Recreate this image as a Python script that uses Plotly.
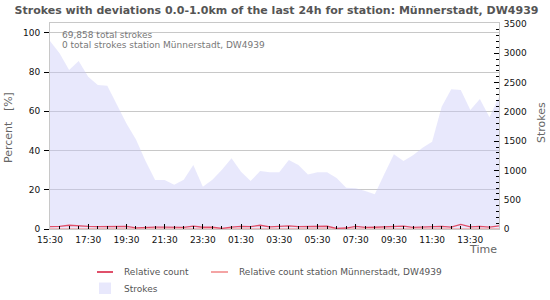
import plotly.graph_objects as go
import pandas as pd

# ---- data ----
times = pd.date_range("2024-05-01 15:30", periods=48, freq="30min")
strokes = [3209, 3000, 2714, 2868, 2600, 2460, 2446, 2110, 1800, 1530,
           1160, 836, 836, 755, 840, 1093, 722, 840, 1010, 1207,
           978, 819, 990, 968, 968, 1178, 1093, 930, 968, 968,
           870, 705, 695, 650, 592, 940, 1275, 1161, 1260, 1388,
           1490, 2088, 2385, 2373, 2031, 2219, 1907, 2258]
rel_count = [1.2, 1.3, 1.9, 1.5, 1.3, 1.2, 1.3, 1.3, 1.3, 0.6,
             0.9, 1.0, 1.0, 0.9, 0.8, 1.5, 0.9, 1.0, 0.3, 1.0,
             1.3, 1.2, 1.9, 1.1, 1.2, 1.6, 1.2, 1.2, 1.4, 1.4,
             0.3, 0.5, 1.3, 0.8, 0.9, 1.0, 1.2, 1.5, 0.8, 1.0,
             1.1, 1.3, 1.0, 2.3, 1.1, 1.3, 1.0, 1.6]
rel_station = [0.0] * 48
pct_ticks = [0, 20, 40, 60, 80, 100]
total_strokes_text = "69,858 total strokes"
station_text = "0 total strokes station Münnerstadt, DW4939"
title_text = "Strokes with deviations 0.0-1.0km of the last 24h for station: Münnerstadt, DW4939"
legend_labels = ["Relative count", "Relative count station Münnerstadt, DW4939", "Strokes"]

# ---- styling ----
W, H = 550, 300
L, R, T, B = 50, 51, 23, 71
PW, PH = W - L - R, H - T - B
FONT = "DejaVu Sans"
C_RED = "#e0506a"
C_PINK = "#f4a4a4"
C_FILL = "rgba(198,198,248,0.4)"
C_GRID = "#c8c8c8"

def px(x):
    return (x - L) / PW

def py(y):
    return (T + PH - y) / PH

fig = go.Figure()
fig.add_trace(go.Scatter(x=times, y=strokes, mode="lines", fill="tozeroy",
                         fillcolor=C_FILL, line=dict(width=0, color=C_FILL),
                         yaxis="y", showlegend=False, hoverinfo="skip"))
fig.add_trace(go.Scatter(x=times, y=rel_station, mode="lines",
                         line=dict(width=1.5, color=C_PINK),
                         yaxis="y2", showlegend=False))
fig.add_trace(go.Scatter(x=times, y=rel_count, mode="lines",
                         line=dict(width=1.3, color=C_RED),
                         yaxis="y2", showlegend=False))

tick_font = dict(family=FONT, size=9, color="#111")

fig.update_layout(
    width=W, height=H,
    margin=dict(l=L, r=R, t=T, b=B, pad=0),
    paper_bgcolor="white", plot_bgcolor="white",
    showlegend=False,
    title=dict(text=title_text, x=276.5 / W, xanchor="center",
               y=1 - 10 / H, yanchor="middle", xref="container", yref="container",
               font=dict(family=FONT, size=11, color="#555", weight="bold")),
    xaxis=dict(
        type="date",
        range=[times[0], pd.Timestamp("2024-05-02 15:00")],
        tickformat="%H:%M", dtick=7200000, tick0=times[0],
        ticks="inside", ticklen=5, tickcolor="#000", tickwidth=1,
        minor=dict(dtick=1800000, tick0=times[0], ticks="inside",
                   ticklen=3, tickcolor="#000", showgrid=False),
        showgrid=False, zeroline=False,
        showline=True, linecolor=C_GRID, mirror=True,
        tickfont=tick_font, ticklabelstandoff=2,
    ),
    yaxis=dict(
        side="right", range=[0, 3517], dtick=500, tick0=0,
        ticks="inside", ticklen=5, tickcolor="#000",
        minor=dict(dtick=100, ticks="inside", ticklen=3, tickcolor="#000", showgrid=False),
        showgrid=False, zeroline=False,
        showline=True, linecolor=C_GRID,
        tickfont=tick_font, ticklabelstandoff=2,
    ),
    yaxis2=dict(
        overlaying="y", side="left", range=[0, 105],
        tickvals=pct_ticks, ticks="outside", ticklen=5, tickcolor="#000",
        showgrid=True, gridcolor=C_GRID, gridwidth=1, zeroline=False,
        showline=True, linecolor=C_GRID,
        tickfont=tick_font, ticklabelstandoff=2,
    ),
)

ann_font = dict(family=FONT, size=9, color="#777")
anns = [
    dict(text=total_strokes_text, x=px(60), y=py(35), xanchor="left", yanchor="middle", font=ann_font),
    dict(text=station_text, x=px(60), y=py(45), xanchor="left", yanchor="middle", font=ann_font),
    dict(text="Percent   [%]", x=px(8), y=py(128), textangle=-90, xanchor="center",
         yanchor="middle", font=dict(family=FONT, size=11, color="#666")),
    dict(text="Strokes", x=px(541), y=py(123), textangle=-90, xanchor="center",
         yanchor="middle", font=dict(family=FONT, size=11, color="#666")),
    dict(text="Time", x=px(499), y=py(249), xanchor="right", yanchor="middle",
         font=dict(family=FONT, size=11, color="#666")),
    dict(text=legend_labels[0], x=px(122), y=py(272), xanchor="left", yanchor="middle",
         font=dict(family=FONT, size=9, color="#555")),
    dict(text=legend_labels[1], x=px(237), y=py(272), xanchor="left", yanchor="middle",
         font=dict(family=FONT, size=9, color="#555")),
    dict(text=legend_labels[2], x=px(122), y=py(289), xanchor="left", yanchor="middle",
         font=dict(family=FONT, size=9, color="#555")),
]
for a in anns:
    a.update(xref="paper", yref="paper", showarrow=False)
fig.update_layout(annotations=anns)

shapes = [
    dict(type="line", x0=px(97), x1=px(113), y0=py(272), y1=py(272),
         line=dict(color=C_RED, width=2)),
    dict(type="line", x0=px(211), x1=px(228), y0=py(272), y1=py(272),
         line=dict(color=C_PINK, width=2)),
    dict(type="rect", x0=px(99), x1=px(111), y0=py(282.5), y1=py(294),
         fillcolor="#e8e8fc", line=dict(width=0)),
]
for s in shapes:
    s.update(xref="paper", yref="paper")
fig.update_layout(shapes=shapes)

fig.write_html("out.html")
